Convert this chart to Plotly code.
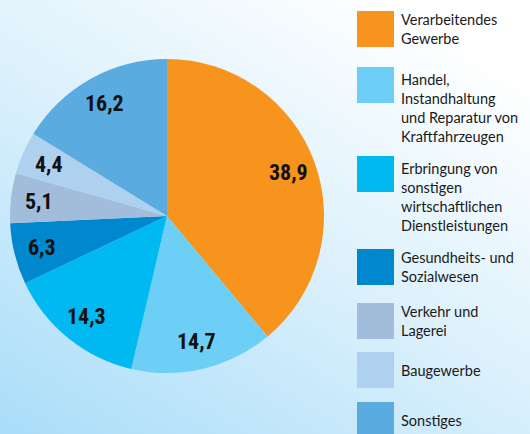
import math
import urllib.parse
import plotly.graph_objects as go

# ---- data ----
categories = [
    "Verarbeitendes<br>Gewerbe",
    "Handel,<br>Instandhaltung<br>und Reparatur von<br>Kraftfahrzeugen",
    "Erbringung von<br>sonstigen<br>wirtschaftlichen<br>Dienstleistungen",
    "Gesundheits- und<br>Sozialwesen",
    "Verkehr und<br>Lagerei",
    "Baugewerbe",
    "Sonstiges",
]
values = [38.9, 14.7, 14.3, 6.3, 5.1, 4.4, 16.2]
colors = ["#F7941E", "#6DCFF6", "#00B9F1", "#0088CE", "#A2BCDC", "#ADD1EF", "#5AABDF"]

W, H = 530, 434

# ---- layout (positions / styles) ----
pie_left, pie_right, pie_top, pie_bottom = 10, 324, 59, 373  # px
legend_tops = [11, 67, 156, 249, 303, 352, 402]  # px from top
sq_x0, sq_x1, sq_h = 357, 394, 36
text_x = 399
label_radius = 0.82

fig = go.Figure()
fig.add_trace(go.Pie(
    labels=[c.replace("<br>", " ") for c in categories],
    values=values,
    sort=False,
    direction="clockwise",
    rotation=0,
    marker=dict(colors=colors, line=dict(width=0)),
    textinfo="none",
    hoverinfo="label+value",
    domain=dict(x=[pie_left / W, pie_right / W], y=[(H - pie_bottom) / H, (H - pie_top) / H]),
    showlegend=False,
))

shapes = []
annotations = []

# value labels placed at each slice's mid-angle
cx = (pie_left + pie_right) / 2
cy = (pie_top + pie_bottom) / 2
R = (pie_right - pie_left) / 2
total = sum(values)
cum = 0.0
for v in values:
    mid = (cum + v / 2) / total * 2 * math.pi
    cum += v
    px = cx + label_radius * R * math.sin(mid)
    py = cy - label_radius * R * math.cos(mid)
    annotations.append(dict(
        text=f"{v:.1f}".replace(".", ","), xref="paper", yref="paper",
        x=px / W, y=1 - py / H, xanchor="center", yanchor="middle", showarrow=False,
        font=dict(family="Liberation Sans Narrow, Roboto Condensed, Roboto, sans-serif",
                  size=22, color="#111111", weight="bold")))

for lab, col, top in zip(categories, colors, legend_tops):
    shapes.append(dict(type="rect", xref="paper", yref="paper",
                       x0=sq_x0 / W, x1=sq_x1 / W,
                       y0=1 - top / H, y1=1 - (top + sq_h) / H,
                       fillcolor=col, line=dict(width=0), layer="above"))
    nlines = lab.count("<br>") + 1
    if nlines <= 2:
        ya, yy = "middle", 1 - (top + sq_h / 2) / H
    else:
        ya, yy = "top", 1 - (top + 2) / H
    annotations.append(dict(text=lab, xref="paper", yref="paper",
                            x=text_x / W, y=yy, xanchor="left", yanchor=ya,
                            align="left", showarrow=False,
                            font=dict(family="Lato, Open Sans, sans-serif", size=14.5, color="#1a1a1a")))

svg = (
    f'<svg xmlns="http://www.w3.org/2000/svg" width="{W}" height="{H}">'
    '<defs><linearGradient id="g" x1="0" y1="1" x2="0.75" y2="0">'
    '<stop offset="0" stop-color="#a9ddf9"/>'
    '<stop offset="0.55" stop-color="#dcf1fc"/>'
    '<stop offset="1" stop-color="#ffffff"/>'
    '</linearGradient></defs>'
    f'<rect width="{W}" height="{H}" fill="url(#g)"/></svg>'
)
src = "data:image/svg+xml;charset=utf-8," + urllib.parse.quote(svg)

fig.update_layout(
    width=W, height=H,
    margin=dict(l=0, r=0, t=0, b=0),
    paper_bgcolor="white",
    shapes=shapes,
    annotations=annotations,
    images=[dict(source=src, xref="paper", yref="paper", x=0, y=1,
                 sizex=1, sizey=1, xanchor="left", yanchor="top",
                 sizing="stretch", layer="below")],
)

fig.write_html("out.html")
